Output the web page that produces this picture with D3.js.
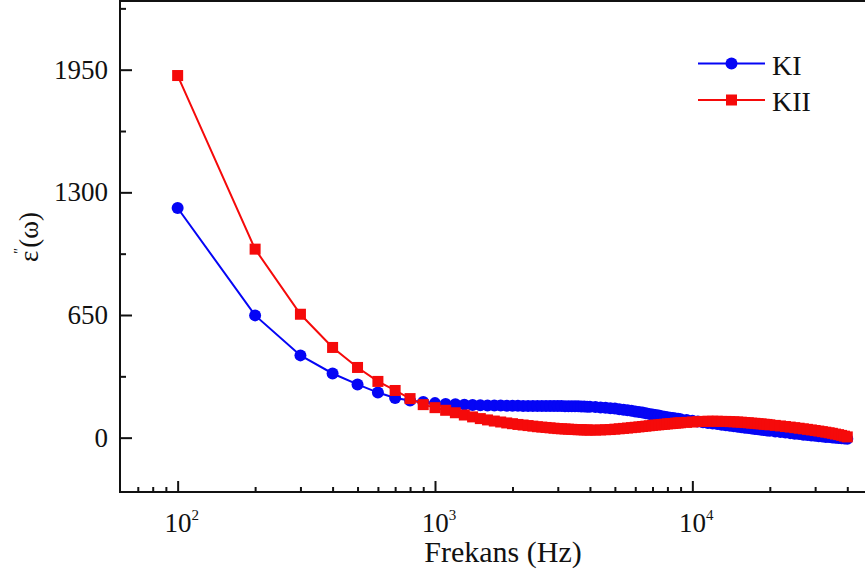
<!DOCTYPE html>
<html>
<head>
<meta charset="utf-8">
<script src="https://cdn.jsdelivr.net/npm/d3@7"></script>
<style>
  body { margin: 0; background: #fff; }
  text { font-family: "Liberation Serif", "Times New Roman", serif; fill: #111; }
</style>
</head>
<body>
<div id="chart"></div>
<script>
// frequency (Hz)
var freq = [
  100, 200, 300, 400, 500, 600, 700, 800, 900, 1000,
  1100, 1200, 1300, 1400, 1500, 1600, 1700, 1800, 1900, 2000,
  2100, 2200, 2300, 2400, 2500, 2600, 2700, 2800, 2900, 3000,
  3100, 3200, 3300, 3400, 3500, 3600, 3700, 3800, 3900, 4000,
  4200, 4400, 4600, 4800, 5000, 5200, 5400, 5600, 5800, 6000,
  6200, 6400, 6600, 6800, 7000, 7200, 7400, 7600, 7800, 8000,
  8200, 8400, 8600, 8800, 9000,
  9500, 10000, 10500, 11000, 11500, 12000, 12500, 13000, 13500, 14000,
  14500, 15000, 15500, 16000, 16500, 17000, 17500, 18000, 18500, 19000, 19500, 20000,
  21000, 22000, 23000, 24000, 25000, 26000, 27000, 28000, 29000, 30000,
  31000, 32000, 33000, 34000, 35000, 36000, 37000, 38000, 39000, 40000
];
// epsilon'' for KI
var kI = [
  1217, 648, 436, 340, 282, 239, 210, 197, 189, 183,
  179, 177, 175, 173, 172, 171, 170, 170, 169, 169,
  169, 168, 168, 168, 168, 168, 168, 168, 168, 168,
  168, 167, 167, 167, 166, 166, 165, 165, 164, 164,
  162, 160, 158, 156, 154, 151, 148, 145, 142, 139,
  136, 133, 129, 126, 123, 120, 117, 114, 111, 108,
  106, 104, 102, 100, 98,
  94, 90, 86, 82, 78, 75, 72, 69, 66, 63,
  60, 58, 55, 53, 51, 48, 46, 44, 42, 40, 38, 36,
  33, 30, 27, 24, 21, 19, 16, 14, 12, 10,
  8, 6, 4, 3, 1, 0, -2, -3, -5, -6
];
// epsilon'' for KII
var kII = [
  1919, 999, 654, 478, 372, 298, 250, 207, 175, 159,
  145, 132, 120, 110, 101, 94, 88, 83, 78, 74,
  70, 67, 64, 61, 58, 56, 54, 52, 50, 48,
  47, 46, 45, 44, 43, 42, 42, 41, 41, 40,
  40, 41, 42, 43, 45, 47, 49, 51, 53, 55,
  57, 59, 61, 63, 65, 67, 68, 70, 71, 73,
  74, 75, 77, 78, 79,
  81, 83, 85, 86, 87, 87, 87, 86, 86, 85,
  84, 83, 82, 80, 79, 77, 76, 74, 73, 71, 70, 68,
  65, 62, 59, 56, 53, 50, 47, 44, 41, 38,
  35, 32, 29, 26, 23, 19, 16, 12, 8, 4
];
var yTicks = [0, 650, 1300, 1950];
var yMinor = [325, 975, 1625, 2275];
var xTicks = [100, 1000, 10000];
var xMinor = [70, 80, 90, 200, 300, 400, 500, 600, 700, 800, 900,
  2000, 3000, 4000, 5000, 6000, 7000, 8000, 9000,
  20000, 30000, 40000, 50000];

draw_chart();

function draw_chart() {
  var W = 865, H = 573;
  var pLeft = 120, pTop = 1, pRight = 880, pBottom = 492;

  var svg = d3.select("#chart").append("svg")
    .attr("width", W).attr("height", H);

  var x = d3.scaleLog().domain([59.7, 53600]).range([pLeft, pRight]);
  var y = d3.scaleLinear().domain([-288, 2314]).range([pBottom, pTop]);

  // ticks (inward)
  svg.append("g")
    .attr("transform", "translate(0," + pBottom + ")")
    .call(d3.axisBottom(x).tickValues(xTicks).tickSize(-11).tickSizeOuter(0).tickFormat(""))
    .call(g => g.select(".domain").remove());
  svg.append("g")
    .attr("transform", "translate(0," + pBottom + ")")
    .call(d3.axisBottom(x).tickValues(xMinor).tickSize(-5).tickSizeOuter(0).tickFormat(""))
    .call(g => g.select(".domain").remove());
  svg.append("g")
    .attr("transform", "translate(" + pLeft + ",0)")
    .call(d3.axisLeft(y).tickValues(yTicks).tickSize(-12).tickSizeOuter(0).tickFormat(""))
    .call(g => g.select(".domain").remove());
  svg.append("g")
    .attr("transform", "translate(" + pLeft + ",0)")
    .call(d3.axisLeft(y).tickValues(yMinor).tickSize(-6).tickSizeOuter(0).tickFormat(""))
    .call(g => g.select(".domain").remove());
  svg.selectAll(".tick line").attr("stroke", "#111").attr("stroke-width", 2);

  // frame
  svg.append("rect")
    .attr("x", pLeft).attr("y", pTop)
    .attr("width", pRight - pLeft).attr("height", pBottom - pTop)
    .attr("fill", "none").attr("stroke", "#111").attr("stroke-width", 2);

  // y tick labels
  svg.selectAll(".ylab").data(yTicks).enter().append("text")
    .attr("x", 108).attr("y", d => y(d) + 9)
    .attr("text-anchor", "end")
    .style("font-size", "27px")
    .text(d => d);

  // x tick labels 10^n
  var xl = svg.selectAll(".xlab").data(xTicks).enter().append("text")
    .attr("x", d => x(d) + 4).attr("y", 532)
    .attr("text-anchor", "middle")
    .style("font-size", "27px");
  xl.append("tspan").text("10");
  xl.append("tspan").attr("dy", -12).style("font-size", "15px")
    .text(d => Math.round(Math.log10(d)));

  // axis titles
  svg.append("text")
    .attr("x", 503).attr("y", 562)
    .attr("text-anchor", "middle")
    .style("font-size", "30px")
    .text("Frekans (Hz)");

  var yt = svg.append("text")
    .attr("transform", "translate(38,237) rotate(-90)")
    .attr("text-anchor", "middle")
    .style("font-size", "27px");
  yt.append("tspan").text("ε");
  yt.append("tspan").attr("dy", -14).attr("dx", -3).style("font-size", "14px").text("″");
  yt.append("tspan").attr("dy", 14).text("(ω)");

  // series
  var series = [
    { name: "KI", values: kI, color: "#0505f5", shape: "circle" },
    { name: "KII", values: kII, color: "#f50a0a", shape: "square" }
  ];

  var line = d3.line()
    .x(function (d, i) { return x(freq[i]); })
    .y(function (d) { return y(d); });

  function marker(g, shape, color, cx, cy) {
    if (shape === "circle") {
      g.append("circle").attr("cx", cx).attr("cy", cy).attr("r", 6).attr("fill", color);
    } else {
      g.append("rect").attr("x", cx - 5.5).attr("y", cy - 5.5)
        .attr("width", 11).attr("height", 11).attr("fill", color);
    }
  }

  series.forEach(function (s) {
    var g = svg.append("g");
    g.append("path")
      .datum(s.values)
      .attr("d", line)
      .attr("fill", "none")
      .attr("stroke", s.color)
      .attr("stroke-width", 2);
    s.values.forEach(function (v, i) {
      marker(g, s.shape, s.color, x(freq[i]), y(v));
    });
  });

  // legend
  series.forEach(function (s, i) {
    var ly = 63.5 + i * 36.5;
    var g = svg.append("g");
    g.append("line").attr("x1", 698).attr("x2", 765).attr("y1", ly).attr("y2", ly)
      .attr("stroke", s.color).attr("stroke-width", 2);
    marker(g, s.shape, s.color, 731.5, ly);
    g.append("text").attr("x", 772).attr("y", ly + 11)
      .style("font-size", "28px").text(s.name);
  });
}
</script>
</body>
</html>
